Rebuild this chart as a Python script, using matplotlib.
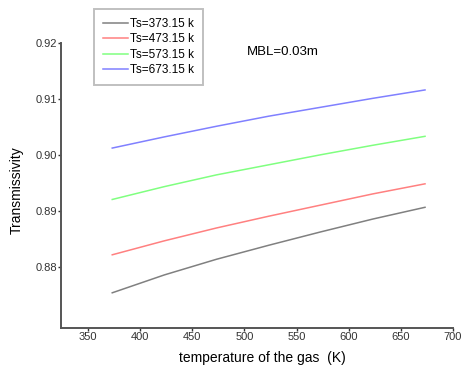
import matplotlib.pyplot as plt

plt.rcParams['font.family'] = ['Liberation Sans', 'DejaVu Sans']

# gas temperature (K) and transmissivity for each surface temperature, MBL = 0.03 m
t_gas = [373.15, 423.15, 473.15, 523.15, 573.15, 623.15, 673.15]
tau_373 = [0.8753, 0.8785, 0.8813, 0.8838, 0.8862, 0.8885, 0.8906]
tau_473 = [0.8821, 0.8846, 0.8869, 0.8890, 0.8910, 0.8930, 0.8948]
tau_573 = [0.8920, 0.8943, 0.8964, 0.8982, 0.9000, 0.9017, 0.9033]
tau_673 = [0.9012, 0.9032, 0.9051, 0.9069, 0.9085, 0.9101, 0.9116]

labels = ['Ts=373.15 k', 'Ts=473.15 k', 'Ts=573.15 k', 'Ts=673.15 k']
colors = ['#808080', '#ff8080', '#80ff80', '#8080ff']

fig = plt.figure(figsize=(4.63, 3.70), dpi=100)
ax = fig.add_axes([61/463, 1 - 328/370, 392/463, 285/370])

handles = []
for y, lab, c in zip([tau_373, tau_473, tau_573, tau_673], labels, colors):
    h, = ax.plot(t_gas, y, color=c, lw=1.1, label=lab)
    handles.append(h)

ax.set_xlim(324, 700)
ax.set_ylim(0.869, 0.92)
ax.set_xticks([350, 400, 450, 500, 550, 600, 650, 700])
ax.set_yticks([0.88, 0.89, 0.90, 0.91, 0.92])
ax.set_yticklabels(['0.88', '0.89', '0.90', '0.91', '0.92'])

for s in ['top', 'right']:
    ax.spines[s].set_visible(False)
for s in ['left', 'bottom']:
    ax.spines[s].set_color('#555555')
    ax.spines[s].set_linewidth(1.4)
ax.tick_params(length=2, width=1, pad=1, labelsize=8, colors='#333333')

fig.text(17/463, 1 - 190/370, 'Transmissivity', rotation=90, fontsize=10,
         ha='center', va='center')
fig.text(262/463, 1 - 358/370, 'temperature of the gas  (K)', fontsize=10,
         ha='center', va='center')
fig.text(247/463, 1 - 52/370, 'MBL=0.03m', fontsize=9.5, ha='left', va='center')

leg = fig.legend(handles=handles, loc='upper left', bbox_to_anchor=(94/463, 1 - 9/370),
                 fontsize=8.5, frameon=True, fancybox=False, handlelength=2.1,
                 handletextpad=0.2, labelspacing=0.3, borderpad=0.75,
                 borderaxespad=0)
leg.get_frame().set_edgecolor('#b0b0b0')
leg.get_frame().set_linewidth(1.4)

fig.savefig('out.png', dpi=100)
